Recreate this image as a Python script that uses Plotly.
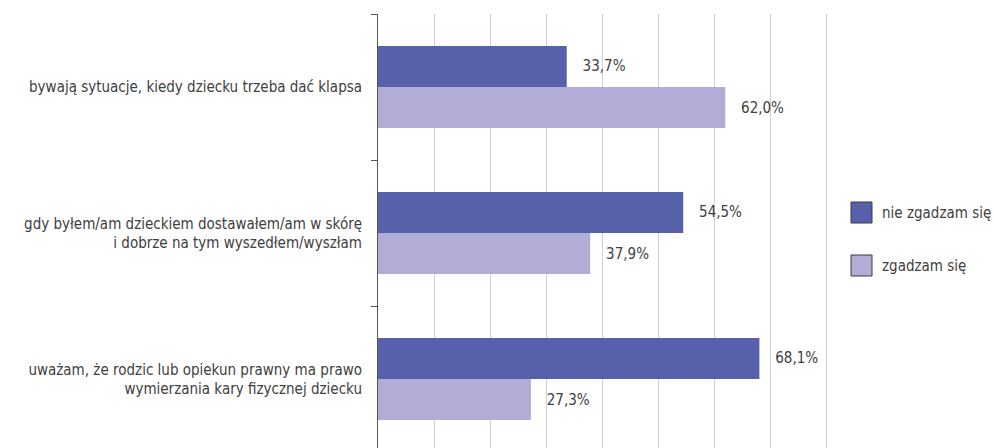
import plotly.graph_objects as go

categories = [
    "bywają sytuacje, kiedy dziecku trzeba dać klapsa",
    "gdy byłem/am dzieckiem dostawałem/am w skórę<br>i dobrze na tym wyszedłem/wyszłam",
    "uważam, że rodzic lub opiekun prawny ma prawo<br>wymierzania kary fizycznej dziecku",
]
series_names = ["nie zgadzam się", "zgadzam się"]
nie_zgadzam = [33.7, 54.5, 68.1]
zgadzam = [62.0, 37.9, 27.3]
colors = ["#5760AA", "#B1ADD6"]

FONT = "DejaVu Sans Condensed, Liberation Sans Narrow, sans-serif"
TXT = "#404040"
FS = 15

def fmt(v):
    return "\u00a0\u00a0\u00a0" + f"{v:.1f}".replace(".", ",") + "%"

fig = go.Figure()
for name, vals, col in zip(series_names, [nie_zgadzam, zgadzam], colors):
    fig.add_trace(go.Bar(
        y=categories, x=vals, orientation="h", name=name,
        marker=dict(color=col, line=dict(width=0)),
        text=[fmt(v) for v in vals], textposition="outside",
        outsidetextfont=dict(family=FONT, size=FS, color=TXT),
        constraintext="none", cliponaxis=False, showlegend=False,
    ))

# manual legend (large square swatches)
W, H = 994, 448
L, R, T, B = 378, 166, 14, 0
pw, ph = W - L - R, H - T - B
def px(x):
    return (x - L) / pw
def py(y):
    return (H - B - y) / ph

leg_tops = [202, 255]
for i, (name, col) in enumerate(zip(series_names, colors)):
    y0 = leg_tops[i]
    fig.add_shape(type="rect", xref="paper", yref="paper",
                  x0=px(851), x1=px(872), y0=py(y0 + 21), y1=py(y0),
                  fillcolor=col, line=dict(color="#3a3a3a", width=1))
    fig.add_annotation(xref="paper", yref="paper", x=px(880), y=py(y0 + 10.5),
                       text=name, showarrow=False, xanchor="left", yanchor="middle",
                       font=dict(family=FONT, size=FS, color=TXT))

fig.update_layout(
    width=W, height=H,
    margin=dict(l=L, r=R, t=T, b=B, pad=0, autoexpand=False),
    paper_bgcolor="white", plot_bgcolor="white",
    barmode="group", bargap=0.438, bargroupgap=0,
    font=dict(family=FONT, size=FS, color=TXT),
    xaxis=dict(range=[0, 80.35], dtick=10, showgrid=True, gridcolor="#D0D0D0",
               gridwidth=1, showticklabels=False, zeroline=False, showline=False,
               automargin=False),
    yaxis=dict(range=[2.4726, -0.5], showline=True, linecolor="#555555", linewidth=1,
               ticks="outside", ticklen=6, tickcolor="#555555", tickson="boundaries",
               ticklabelstandoff=12, showgrid=False, automargin=False,
               tickfont=dict(family=FONT, size=FS, color=TXT)),
)

fig.write_html("out.html", config={"displayModeBar": False},
               post_script="document.body.style.margin='0';document.body.style.overflow='hidden';")
